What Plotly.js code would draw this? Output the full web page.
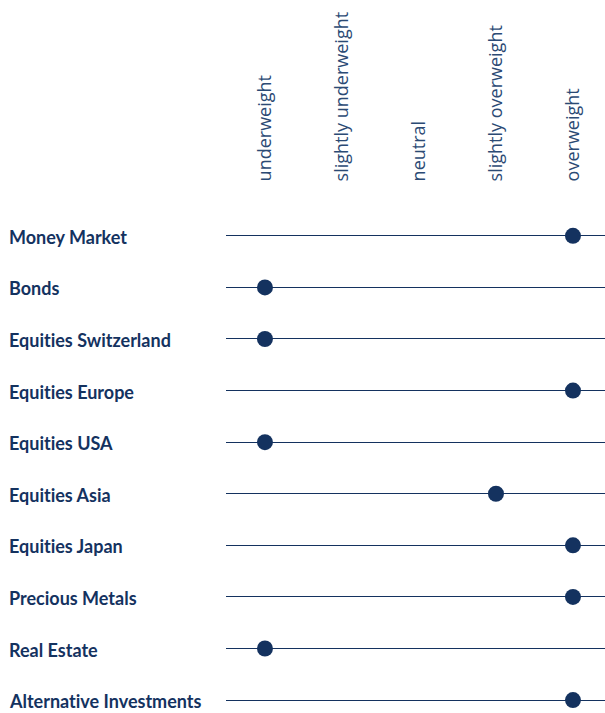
<!DOCTYPE html>
<html><head><meta charset="utf-8">
<script src="https://cdn.plot.ly/plotly-3.0.1.min.js"></script>
<style>html,body{margin:0;padding:0;background:#fff} text{font-variant-ligatures:none;font-feature-settings:"liga" 0}</style>
</head><body><div id="chart" style="width:605px;height:713px"></div>
<script>
const assetClasses = ["Money Market","Bonds","Equities Switzerland","Equities Europe","Equities USA","Equities Asia","Equities Japan","Precious Metals","Real Estate","Alternative Investments"];
const positionLabels = ["underweight","slightly underweight","neutral","slightly overweight","overweight"];
const positions = [4,0,0,4,0,3,4,4,0,4];

const navy = "#14325f";
const trace = {
  type: "scatter", mode: "markers",
  x: positions, y: assetClasses.map((c,i)=>i),
  marker: {size: 16, color: navy},
  hoverinfo: "skip", cliponaxis: false
};
const annotations = assetClasses.map((c,i)=>({
  xref: "paper", yref: "y", x: -0.578, y: i, xanchor: "left", yanchor: "middle", yshift: -1,
  text: "<b>"+c+"</b>", showarrow: false,
  font: {family: "Lato, 'Open Sans', sans-serif", size: 18, color: navy}
}));
const layout = {
  width: 605, height: 713,
  margin: {l: 226, r: 0, t: 210, b: 0},
  paper_bgcolor: "#fff", plot_bgcolor: "#fff",
  showlegend: false,
  xaxis: {
    side: "top", range: [-0.506, 4.416],
    tickvals: [0,1,2,3,4], ticktext: positionLabels,
    tickangle: -90, showgrid: false, zeroline: false, showline: false,
    ticks: "outside", ticklen: 24, tickcolor: "rgba(0,0,0,0)",
    tickfont: {family: "'Open Sans', sans-serif", size: 18, color: "#2b4a74"}
  },
  yaxis: {
    range: [9.25, -0.5], tickvals: assetClasses.map((c,i)=>i),
    showticklabels: false, showgrid: true, gridcolor: navy, gridwidth: 1,
    zeroline: false, showline: false, ticks: ""
  },
  annotations: annotations
};
Plotly.newPlot("chart", [trace], layout, {displayModeBar: false, staticPlot: true});
</script></body></html>
